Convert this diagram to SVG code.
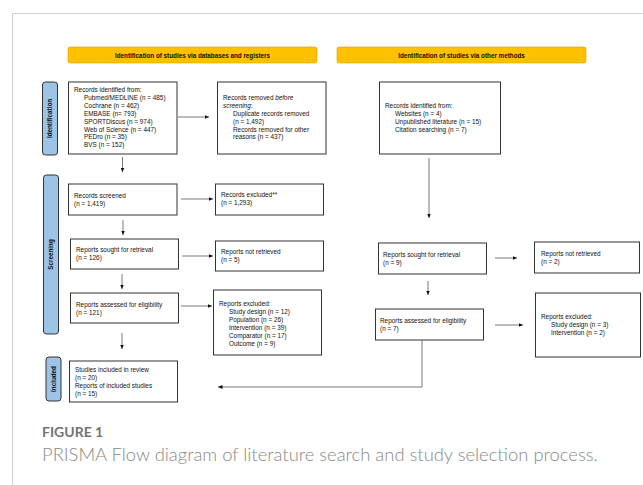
<svg xmlns="http://www.w3.org/2000/svg" width="643" height="485" viewBox="0 0 643 485">
<style>
.t{font-family:"Liberation Sans",Arial,sans-serif;font-size:6.4px;fill:#111}
.hb{font-family:"Liberation Sans",Arial,sans-serif;font-size:6.3px;font-weight:bold;fill:#111}
.box{fill:#fff;stroke:#333;stroke-width:1}
.hdr{fill:#FFC000;stroke:#D9A300;stroke-width:0.6}
.side{fill:#9DC3E6;stroke:#333;stroke-width:1}
.c{fill:none;stroke:#555;stroke-width:0.8}
.cap1{font-family:Lato,"Open Sans",sans-serif;font-size:14px;font-weight:bold;fill:#737373}
.cap2{font-family:Lato,"Open Sans",sans-serif;font-size:18.4px;font-weight:300;fill:#888}
</style>
<defs>
<marker id="ah" markerUnits="userSpaceOnUse" markerWidth="5" markerHeight="4" refX="4.5" refY="2" orient="auto">
<path d="M0,0 L4.5,2 L0,4 Z" fill="#111"/>
</marker>
</defs>
<rect width="643" height="485" fill="#fff"/>
<path d="M12.5,485 V13.5 H643" fill="none" stroke="#cfcfcf" stroke-width="1"/>

<g id="hdr-left"><rect class="hdr" x="68" y="47" width="249" height="16" rx="2"/><text class="hb" x="192.5" y="57.5" text-anchor="middle">Identification of studies via databases and registers</text></g>
<g id="hdr-right"><rect class="hdr" x="337" y="47" width="249" height="16" rx="2"/><text class="hb" x="461.5" y="57.5" text-anchor="middle">Identification of studies via other methods</text></g>

<g id="side-identification"><rect class="side" x="42.5" y="82" width="15" height="73" rx="3"/><text class="hb" transform="translate(52.3,118.5) rotate(-90)" text-anchor="middle">Identification</text></g>
<g id="side-screening"><rect class="side" x="43.5" y="175" width="15" height="159" rx="3"/><text class="hb" transform="translate(53.3,254.5) rotate(-90)" text-anchor="middle">Screening</text></g>
<g id="side-included"><rect class="side" x="46" y="357" width="15" height="44" rx="3"/><text class="hb" transform="translate(55.8,379) rotate(-90)" text-anchor="middle">Included</text></g>

<g id="n-identified"><rect class="box" x="68.5" y="82" width="108.5" height="72"/>
<text class="t" x="74" y="92">Records identified from:</text>
<text class="t" x="84" y="100">Pubmed/MEDLINE (n = 485)</text>
<text class="t" x="84" y="108">Cochrane (n = 462)</text>
<text class="t" x="84" y="116">EMBASE (n= 793)</text>
<text class="t" x="84" y="123.5">SPORTDiscus (n = 974)</text>
<text class="t" x="84" y="131.5">Web of Science (n = 447)</text>
<text class="t" x="84" y="139">PEDro (n = 35)</text>
<text class="t" x="84" y="147">BVS (n = 152)</text>
</g>
<g id="n-removed"><rect class="box" x="217.5" y="82" width="108.5" height="72"/>
<text class="t" x="223" y="100">Records removed <tspan font-style="italic">before</tspan></text>
<text class="t" x="223" y="108"><tspan font-style="italic">screening</tspan>:</text>
<text class="t" x="233" y="116">Duplicate records removed</text>
<text class="t" x="233" y="123.5">(n = 1,492)</text>
<text class="t" x="233" y="131.5">Records removed for other</text>
<text class="t" x="233" y="139">reasons (n = 437)</text>
</g>
<g id="n-screened"><rect class="box" x="68.5" y="184" width="108.5" height="31"/>
<text class="t" x="74" y="198">Records screened</text>
<text class="t" x="74" y="206">(n = 1,419)</text></g>
<g id="n-excluded"><rect class="box" x="215.5" y="184" width="108" height="31"/>
<text class="t" x="221" y="197">Records excluded**</text>
<text class="t" x="221" y="205">(n = 1,293)</text></g>
<g id="n-sought"><rect class="box" x="70.5" y="239" width="108" height="30"/>
<text class="t" x="76" y="252">Reports sought for retrieval</text>
<text class="t" x="76" y="260">(n = 126)</text></g>
<g id="n-notretrieved"><rect class="box" x="215.5" y="241" width="108" height="30"/>
<text class="t" x="221" y="254">Reports not retrieved</text>
<text class="t" x="221" y="262">(n = 5)</text></g>
<g id="n-assessed"><rect class="box" x="70.5" y="293" width="108" height="30"/>
<text class="t" x="76" y="307">Reports assessed for eligibility</text>
<text class="t" x="76" y="315">(n = 121)</text></g>
<g id="n-reportsexcluded"><rect class="box" x="213.5" y="290" width="108" height="65"/>
<text class="t" x="219" y="306">Reports excluded:</text>
<text class="t" x="229" y="314">Study design (n = 12)</text>
<text class="t" x="229" y="322">Population (n = 26)</text>
<text class="t" x="229" y="330">Intervention (n = 39)</text>
<text class="t" x="229" y="337.5">Comparator (n = 17)</text>
<text class="t" x="229" y="346">Outcome (n = 9)</text></g>
<g id="n-included"><rect class="box" x="69.5" y="361" width="108" height="41"/>
<text class="t" x="75" y="372">Studies included in review</text>
<text class="t" x="75" y="380">(n = 20)</text>
<text class="t" x="75" y="388">Reports of included studies</text>
<text class="t" x="75" y="396">(n = 15)</text></g>

<g id="n-other-identified"><rect class="box" x="379.5" y="82" width="121" height="72"/>
<text class="t" x="385" y="108">Records identified from:</text>
<text class="t" x="395" y="116">Websites (n = 4)</text>
<text class="t" x="395" y="124">Unpublished literature (n = 15)</text>
<text class="t" x="395" y="131.5">Citation searching (n = 7)</text></g>
<g id="n-other-sought"><rect class="box" x="378.5" y="243" width="108" height="31"/>
<text class="t" x="383" y="257">Reports sought for retrieval</text>
<text class="t" x="383" y="265">(n = 9)</text></g>
<g id="n-other-notretrieved"><rect class="box" x="534.5" y="242" width="105" height="31"/>
<text class="t" x="541" y="256">Reports not retrieved</text>
<text class="t" x="541" y="264">(n = 2)</text></g>
<g id="n-other-assessed"><rect class="box" x="375.5" y="309" width="108" height="31"/>
<text class="t" x="380" y="323">Reports assessed for eligibility</text>
<text class="t" x="380" y="331">(n = 7)</text></g>
<g id="n-other-excluded"><rect class="box" x="535.5" y="293" width="105" height="64"/>
<text class="t" x="541" y="319">Reports excluded:</text>
<text class="t" x="551" y="327">Study design (n = 3)</text>
<text class="t" x="551" y="335">Intervention (n = 2)</text></g>

<g id="connectors">
<line class="c" x1="178" y1="117" x2="209" y2="117" marker-end="url(#ah)"/>
<line class="c" x1="122.5" y1="157" x2="122.5" y2="172" marker-end="url(#ah)"/>
<line class="c" x1="181" y1="199" x2="213" y2="199" marker-end="url(#ah)"/>
<line class="c" x1="123" y1="220" x2="123" y2="235" marker-end="url(#ah)"/>
<line class="c" x1="182" y1="256" x2="213" y2="256" marker-end="url(#ah)"/>
<line class="c" x1="122" y1="274" x2="122" y2="289" marker-end="url(#ah)"/>
<line class="c" x1="181" y1="306" x2="212" y2="306" marker-end="url(#ah)"/>
<line class="c" x1="122" y1="333" x2="122" y2="349" marker-end="url(#ah)"/>
<line class="c" x1="429" y1="158" x2="429" y2="218" marker-end="url(#ah)"/>
<line class="c" x1="495" y1="258" x2="517" y2="258" marker-end="url(#ah)"/>
<line class="c" x1="428" y1="281" x2="428" y2="295" marker-end="url(#ah)"/>
<line class="c" x1="495" y1="325" x2="523" y2="325" marker-end="url(#ah)"/>
<polyline class="c" points="422,340 422,387 218,387" marker-end="url(#ah)"/>
</g>

<text class="cap1" x="42" y="437">FIGURE 1</text>
<text class="cap2" x="42" y="461">PRISMA Flow diagram of literature search and study selection process.</text>
</svg>
